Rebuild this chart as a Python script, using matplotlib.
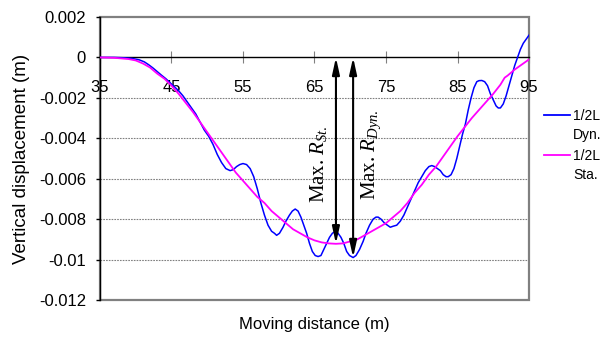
import numpy as np
import matplotlib
matplotlib.use("Agg")
import matplotlib.pyplot as plt
from matplotlib.patches import Rectangle
from matplotlib.lines import Line2D

plt.rcParams['font.family'] = ['Liberation Sans', 'DejaVu Sans']
plt.rcParams['mathtext.fontset'] = 'custom'
plt.rcParams['mathtext.rm'] = 'Liberation Serif'
plt.rcParams['mathtext.it'] = 'Liberation Serif:italic'
plt.rcParams['axes.unicode_minus'] = False

# ---- data ----
x_dyn = [35, 37, 38.5, 39.5, 40.5, 41.2, 41.8, 42.4, 43, 43.6, 44.2, 44.8, 45.4, 46, 46.6,
         47.2, 47.8, 48.4, 49, 49.6, 50.2, 50.8, 51.4, 52, 52.6, 53.2, 53.65, 54.1, 54.55,
         55, 55.5, 56, 56.5, 57, 57.5, 58, 58.5, 59, 59.4, 59.7, 60.1, 60.6, 61, 61.5,
         61.9, 62.3, 62.7, 63.1, 63.5, 63.9, 64.3, 64.7, 65.1, 65.5, 65.9, 66.3, 66.7,
         67.1, 67.5, 67.9, 68.3, 68.7, 69.1, 69.5, 69.9, 70.4, 70.8, 71.3, 71.8, 72.2,
         72.7, 73.2, 73.6, 73.9, 74.3, 74.8, 75.2, 75.6, 76, 76.5, 77, 77.5, 78, 78.5, 79,
         79.5, 80, 80.5, 81, 81.4, 81.8, 82.2, 82.6, 83, 83.4, 83.7, 84.1, 84.5, 84.9,
         85.3, 85.7, 86.1, 86.5, 86.9, 87.3, 87.7, 88, 88.4, 88.8, 89.2, 89.6, 90, 90.4,
         90.7, 91, 91.4, 91.8, 92.2, 92.6, 93, 93.4, 93.8, 94.2, 94.6, 95]
y_dyn = [0, 0, -0.00002, -0.00005, -0.00012, -0.00022, -0.00036, -0.00052, -0.0007,
         -0.00088, -0.00105, -0.00125, -0.00145, -0.00165, -0.0019, -0.0022, -0.0025,
         -0.0028, -0.0032, -0.0036, -0.0039, -0.0043, -0.0048, -0.0052, -0.0055, -0.0056,
         -0.00555, -0.0054, -0.0053, -0.00525, -0.0053, -0.0055, -0.0059, -0.0065, -0.0072,
         -0.0078, -0.0083, -0.0086, -0.0087, -0.0088, -0.0087, -0.0084, -0.0081, -0.0078,
         -0.0076, -0.0075, -0.0076, -0.0079, -0.0083, -0.0087, -0.0092, -0.0096, -0.0098,
         -0.00985, -0.0098, -0.0095, -0.0092, -0.0089, -0.0087, -0.0086, -0.0087, -0.0089,
         -0.0092, -0.0096, -0.0098, -0.0099, -0.0098, -0.0095, -0.0091, -0.0087, -0.0083,
         -0.0080, -0.0079, -0.0079, -0.0080, -0.0082, -0.0083, -0.0084, -0.00835, -0.0083,
         -0.0081, -0.0078, -0.0074, -0.0070, -0.0066, -0.0062, -0.0059, -0.0056, -0.0054,
         -0.00535, -0.0054, -0.0055, -0.0056, -0.0058, -0.0059, -0.0059, -0.0058, -0.0055,
         -0.0050, -0.0044, -0.0038, -0.0033, -0.0026, -0.0020, -0.0015, -0.0012, -0.00115,
         -0.00114, -0.0012, -0.0014, -0.0018, -0.0021, -0.0024, -0.0025, -0.0025, -0.0023,
         -0.0019, -0.0014, -0.0009, -0.0004, 0.0, 0.0004, 0.0007, 0.0009, 0.0011]

x_sta = [35, 37, 39, 40, 41, 42, 43, 44, 45, 46, 47, 48, 49, 50, 51, 52, 53, 54, 55, 56,
         57, 58, 59, 60, 61, 62, 63, 64, 65, 66, 67, 68, 69, 70, 71, 72, 73, 74, 75, 76,
         77, 78, 79, 80, 81, 82, 83, 84, 85, 86, 87, 88, 89, 90, 91, 91.6, 92, 93, 94, 95]
y_sta = [0, -0.00002, -0.00008, -0.00015, -0.0003, -0.0005, -0.0008, -0.00105, -0.0014,
         -0.0018, -0.00225, -0.0027, -0.0032, -0.0037, -0.0042, -0.0047, -0.0052, -0.0057,
         -0.0061, -0.0065, -0.0069, -0.0072, -0.0076, -0.0079, -0.0082, -0.0085, -0.0087,
         -0.0089, -0.00905, -0.00915, -0.0092, -0.00922, -0.0092, -0.0091, -0.0090, -0.0088,
         -0.0086, -0.0084, -0.0082, -0.0079, -0.0076, -0.0072, -0.0067, -0.0063, -0.0058,
         -0.0054, -0.0049, -0.0044, -0.0039, -0.00345, -0.0030, -0.0026, -0.0022, -0.0018,
         -0.00135, -0.0010, -0.0009, -0.0006, -0.00035, -0.0001]

x_ticks = [35, 45, 55, 65, 75, 85, 95]
y_ticks = [-0.012, -0.01, -0.008, -0.006, -0.004, -0.002, 0, 0.002]
y_ticklabels = ["-0.012", "-0.01", "-0.008", "-0.006", "-0.004", "-0.002", "0", "0.002"]
labels = ["1/2L\nDyn.", "1/2L\nSta."]

W, H = 605, 338
fig = plt.figure(figsize=(W / 100, H / 100), dpi=100)
ax = fig.add_axes([100 / W, 1 - 300 / H, 429 / W, 283 / H])

ax.set_xlim(35, 95)
ax.set_ylim(-0.012, 0.002)

grey = '#808080'
# grid
for yv in y_ticks:
    if yv not in (0, 0.002, -0.012):
        ax.axhline(yv, color=grey, lw=0.8, ls=(0, (1.5, 1)), zorder=1)

# frame
ax.add_patch(Rectangle((0, 0), 1, 1, transform=ax.transAxes, fill=False,
                       ec=grey, lw=1.6, zorder=1.5, clip_on=False))
for s in ['top', 'right']:
    ax.spines[s].set_visible(False)
ax.spines['left'].set_color('black')
ax.spines['left'].set_linewidth(1.0)
ax.spines['left'].set_zorder(3)
ax.spines['bottom'].set_position(('data', 0))
ax.spines['bottom'].set_color('black')
ax.spines['bottom'].set_linewidth(1.0)

ax.set_xticks(x_ticks)
ax.set_xticklabels([str(v) for v in x_ticks])
ax.set_yticks(y_ticks)
ax.set_yticklabels(y_ticklabels)
ax.tick_params(axis='x', direction='inout', length=8, width=0.8, color=grey,
               labelsize=12, pad=12)
ax.tick_params(axis='y', direction='out', length=3, width=1, color='black',
               labelsize=12, pad=7)

ax.plot(x_dyn, y_dyn, color='#0000FF', lw=1.1, zorder=4)
ax.plot(x_sta, y_sta, color='#FF00FF', lw=1.3, zorder=4)

# arrows from the maxima of each series
i_s = int(np.argmin(y_sta))
i_d = int(np.argmin(y_dyn))
xs, ys = x_sta[i_s], y_sta[i_s]
xd, yd = x_dyn[i_d], y_dyn[i_d]
ap = dict(arrowstyle='<|-|>,head_length=1.0,head_width=0.22', color='black',
          lw=1.5, shrinkA=0, shrinkB=0)
ax.annotate('', xy=(xs, ys), xytext=(xs, 0), arrowprops=ap, zorder=5)
ax.annotate('', xy=(xd, yd), xytext=(xd, 0), arrowprops=ap, zorder=5)
ax.text(xs - 2.4, -0.0053, r"Max. $R_{St.}$", rotation=90, ha='center', va='center',
        fontsize=15, family='Liberation Serif')
ax.text(xd + 2.5, -0.0048, r"Max. $R_{Dyn.}$", rotation=90, ha='center', va='center',
        fontsize=15, family='Liberation Serif')

ax.set_xlabel("Moving distance (m)", fontsize=12)
ax.xaxis.set_label_coords(0.5, -0.06)
ax.set_ylabel("Vertical displacement (m)", fontsize=13.5)
ax.yaxis.set_label_coords(-0.163, 0.5)

# legend (manual, right of plot)
for col, lab, py in [('#0000FF', labels[0], 115), ('#FF00FF', labels[1], 155)]:
    yf = 1 - py / H
    fig.add_artist(Line2D([544 / W, 570 / W], [yf, yf], color=col, lw=1.3))
    fig.text(573 / W, yf + 6 / H, lab, fontsize=10, va='top', ha='left',
             linespacing=1.45)

fig.savefig('out.png', dpi=100)
